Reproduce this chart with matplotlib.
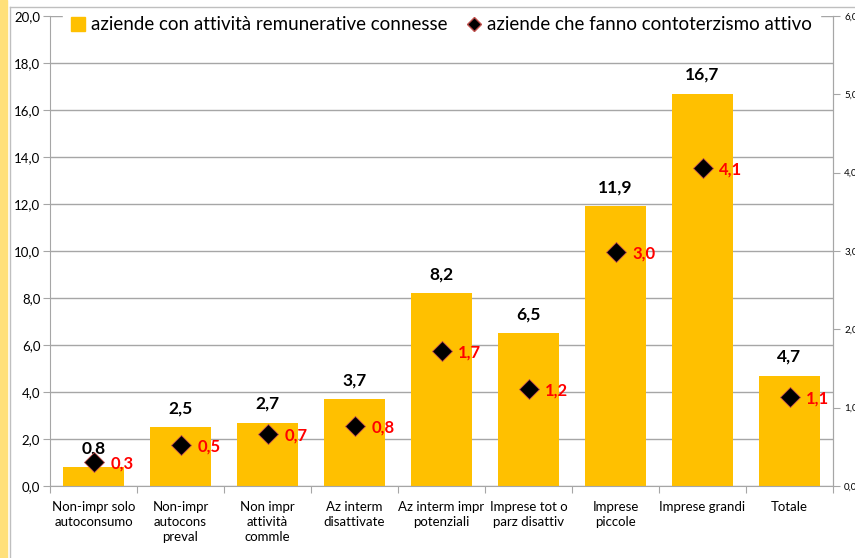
import numpy as np
import matplotlib.pyplot as plt
from matplotlib.lines import Line2D
from matplotlib.patches import Rectangle

plt.rcParams['font.family'] = ['Lato', 'DejaVu Sans']

# categories and series
categories = ['Non-impr solo\nautoconsumo', 'Non-impr\nautocons\npreval', 'Non impr\nattività\ncommle',
              'Az interm\ndisattivate', 'Az interm impr\npotenziali', 'Imprese tot o\nparz disattiv',
              'Imprese\npiccole', 'Imprese grandi', 'Totale']
remunerative = [0.8, 2.5, 2.7, 3.7, 8.2, 6.5, 11.9, 16.7, 4.7]
contoterzismo = [0.31, 0.52, 0.66, 0.76, 1.72, 1.24, 2.99, 4.06, 1.14]

bar_color = '#FFC000'
grid_color = '#A6A6A6'

fig = plt.figure(figsize=(8.55, 5.58), dpi=100)
W, H = 855, 558
# left yellow strip and chart frame
fig.patches.append(Rectangle((0, 0), 7 / W, 1, transform=fig.transFigure, color='#FFE07A', zorder=0))
fig.lines.append(Line2D([10 / W, 10 / W], [0, 1 - 7 / H], transform=fig.transFigure, color='#BFBFBF', lw=1))
fig.lines.append(Line2D([10 / W, 1], [1 - 7 / H, 1 - 7 / H], transform=fig.transFigure, color='#BFBFBF', lw=1))

ax = fig.add_axes([50 / W, 1 - 486 / H, (833 - 50) / W, (486 - 16) / H])
x = np.arange(len(categories))
ax.bar(x, remunerative, width=0.7, color=bar_color, zorder=2)
ax.set_xlim(-0.5, len(categories) - 0.5)
ax.set_ylim(0, 20)
ax.set_yticks(np.arange(0, 21, 2))
ax.set_yticklabels([('%.1f' % v).replace('.', ',') for v in np.arange(0, 21, 2)], fontsize=9.5)
ax.yaxis.grid(True, color=grid_color, lw=1, zorder=0)
ax.set_axisbelow(True)
ax.set_xticks(np.arange(-0.5, len(categories)), minor=False)
ax.set_xticklabels([])
ax.set_xticks(x, minor=True)
ax.set_xticklabels(categories, minor=True, fontsize=9.5, linespacing=1.3)
ax.tick_params(axis='x', which='minor', length=0, pad=11)
ax.tick_params(axis='x', which='major', length=5, color=grid_color)
ax.tick_params(axis='y', length=5, color=grid_color, pad=2)
ax.spines['top'].set_visible(False)
for s in ['left', 'bottom', 'right']:
    ax.spines[s].set_color(grid_color)

for xi, v in zip(x, remunerative):
    ax.text(xi, v + 0.45, ('%.1f' % v).replace('.', ','), ha='center', va='bottom',
            fontsize=12.5, fontweight='bold', color='black', zorder=4)

ax2 = ax.twinx()
ax2.set_ylim(0, 6)
ax2.set_yticks(np.arange(0, 7, 1))
ax2.set_yticklabels([('%.1f' % v).replace('.', ',') for v in np.arange(0, 7, 1)], fontsize=7)
ax2.tick_params(axis='y', length=5, color=grid_color, pad=3)
for s in ['top', 'left', 'bottom']:
    ax2.spines[s].set_visible(False)
ax2.spines['right'].set_color(grid_color)
ax2.plot(x, contoterzismo, linestyle='none', marker='D', markersize=10, markerfacecolor='black',
         markeredgecolor='#C0504D', markeredgewidth=0.6, zorder=5)
for xi, v in zip(x, contoterzismo):
    ax2.annotate(('%.1f' % v).replace('.', ','), (xi, v), xytext=(12, -1), textcoords='offset points',
                 ha='left', va='center', fontsize=12, fontweight='bold', color='red')

handles = [Line2D([], [], linestyle='none', marker='s', markersize=10, markerfacecolor=bar_color, markeredgecolor=bar_color),
           Line2D([], [], linestyle='none', marker='D', markersize=7, markerfacecolor='black', markeredgecolor='#C0504D')]
leg = ax.legend(handles, ['aziende con attività remunerative connesse', 'aziende che fanno contoterzismo attivo'],
                loc='upper center', bbox_to_anchor=(0.5, 1.015), ncol=2, frameon=True, fontsize=13.5,
                handlelength=0.8, handletextpad=0.3, columnspacing=1.0, borderaxespad=0.0, fancybox=False)
leg.get_frame().set_edgecolor('white')
leg.get_frame().set_facecolor('white')
leg.get_frame().set_alpha(1)
leg.set_zorder(10)

fig.savefig('out.png', dpi=100)
